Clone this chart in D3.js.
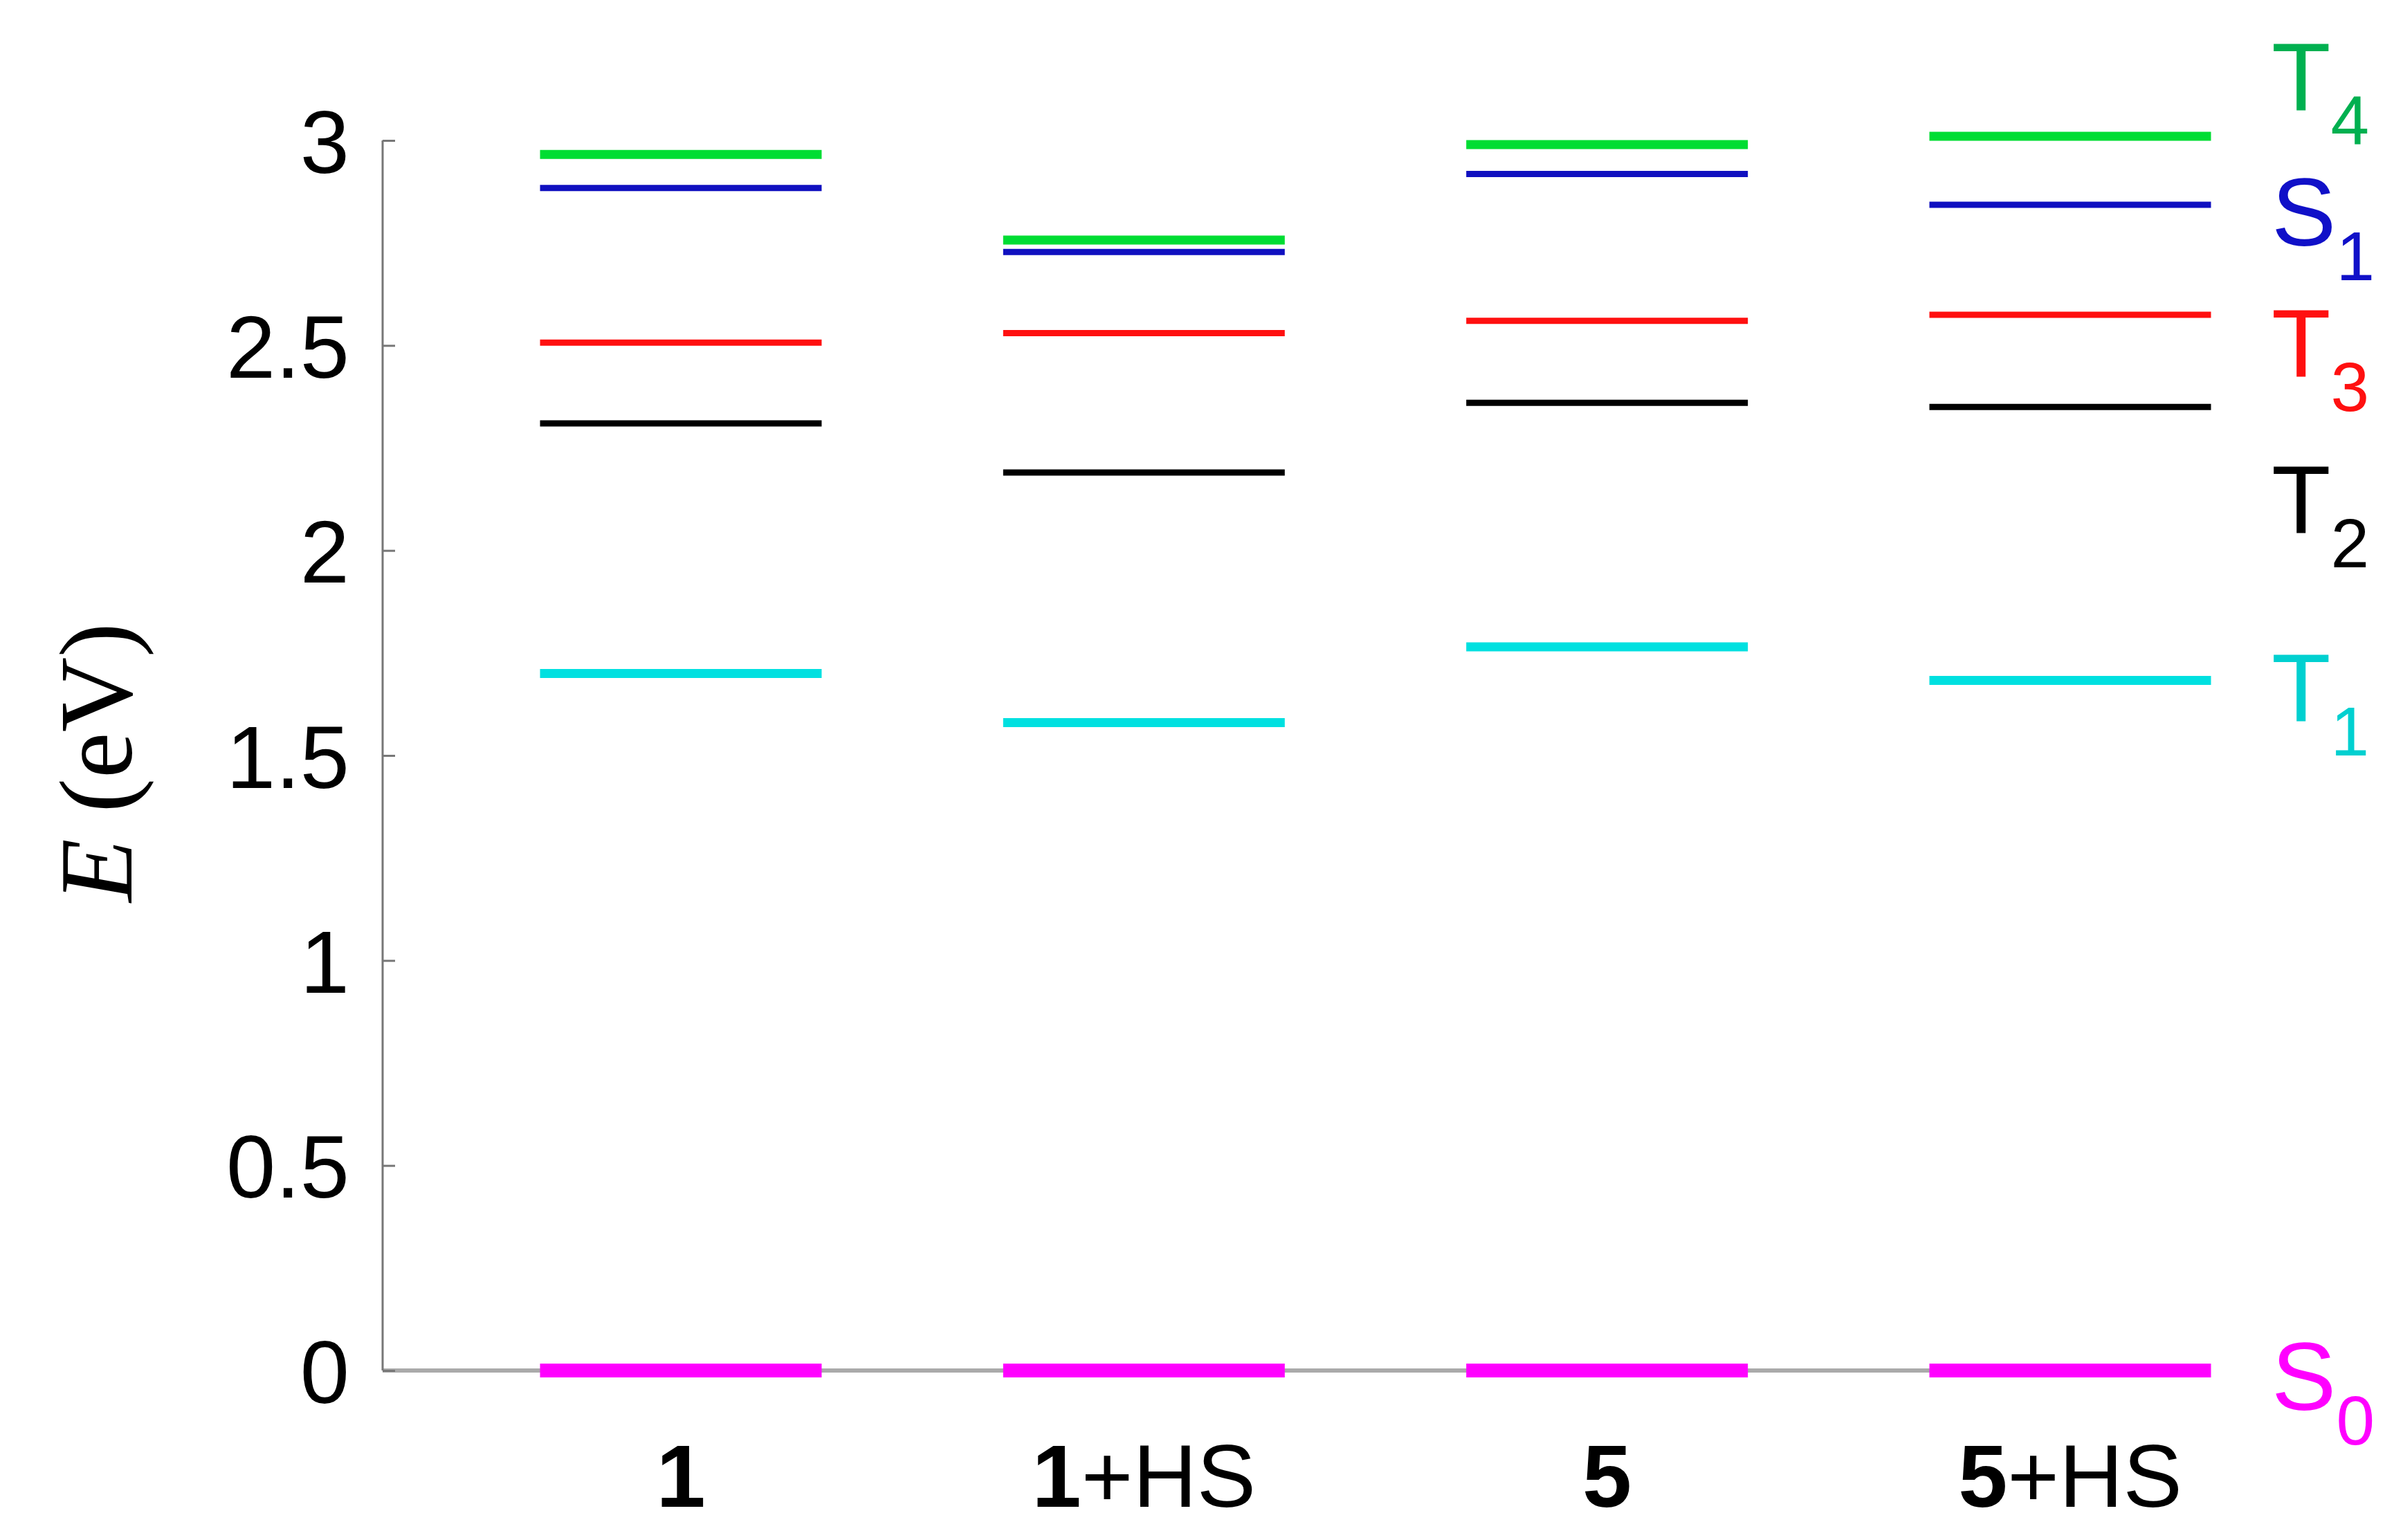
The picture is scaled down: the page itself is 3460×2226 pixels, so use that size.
<!DOCTYPE html>
<html>
<head>
<meta charset="utf-8">
<script src="https://cdn.jsdelivr.net/npm/d3@7"></script>
<style>
  body { margin: 0; background: #fff; }
  svg { display: block; }
</style>
</head>
<body>
<svg id="chart" width="3460" height="2226"></svg>
<script>
// systems on the x axis
const systems = ['1', '1+HS', '5', '5+HS'];
// energy levels per state (eV), one value per system
const S0 = [0, 0, 0, 0];
const T1 = [1.70, 1.58, 1.765, 1.683];
const T2 = [2.31, 2.19, 2.36, 2.35];
const T3 = [2.507, 2.53, 2.56, 2.575];
const S1 = [2.884, 2.728, 2.918, 2.843];
const T4 = [2.966, 2.757, 2.99, 3.01];
const yTicks = [0, 0.5, 1, 1.5, 2, 2.5, 3];

const states = [
  { name: 'S', sub: '0', values: S0, color: '#ff00ff', labelColor: '#ff00ff', width: 20, labelAt: -0.02 },
  { name: 'T', sub: '1', values: T1, color: '#00e0e0', labelColor: '#00d0d0', width: 13, labelAt: 1.66 },
  { name: 'T', sub: '2', values: T2, color: '#000000', labelColor: '#000000', width: 9, labelAt: 2.12 },
  { name: 'T', sub: '3', values: T3, color: '#ff1010', labelColor: '#ff1010', width: 9, labelAt: 2.5 },
  { name: 'S', sub: '1', values: S1, color: '#1010c0', labelColor: '#1010c8', width: 9, labelAt: 2.82 },
  { name: 'T', sub: '4', values: T4, color: '#00dd33', labelColor: '#00b050', width: 13, labelAt: 3.15 }
];

const svg = d3.select('#chart');
const left = 553, right = 3195, y0 = 1981, y3 = 203;
const barW = 407;

const x = d3.scalePoint().domain(systems).range([984, 2992]);
const y = d3.scaleLinear().domain([0, 3]).range([y0, y3]);

// axes
svg.append('line')
  .attr('x1', left).attr('x2', right)
  .attr('y1', y(0)).attr('y2', y(0))
  .attr('stroke', '#aaa').attr('stroke-width', 6);
svg.append('line')
  .attr('x1', left).attr('x2', left)
  .attr('y1', y(3)).attr('y2', y(0))
  .attr('stroke', '#777').attr('stroke-width', 3);

const yAxis = svg.append('g').attr('transform', `translate(${left},0)`)
  .call(d3.axisRight(y).tickValues(yTicks).tickSize(18).tickFormat(d3.format('')));
yAxis.select('.domain').remove();
yAxis.selectAll('.tick line').attr('stroke', '#777').attr('stroke-width', 3);
yAxis.selectAll('.tick text')
  .attr('x', -48).attr('text-anchor', 'end').attr('dy', '0.36em')
  .attr('font-family', 'Liberation Sans, Arial, sans-serif')
  .attr('font-size', 128).attr('fill', '#000');

// y title
svg.append('text')
  .attr('transform', `translate(190,${(y(0) + y(3)) / 2 + 10}) rotate(-90)`)
  .attr('text-anchor', 'middle')
  .attr('font-family', 'Liberation Serif, Times New Roman, serif')
  .attr('font-size', 150)
  .html('<tspan font-style="italic">E</tspan> (eV)');

// x labels
svg.append('g').selectAll('text').data(systems).join('text')
  .attr('x', d => x(d))
  .attr('y', 2178)
  .attr('text-anchor', 'middle')
  .attr('font-family', 'Liberation Sans, Arial, sans-serif')
  .attr('font-size', 128)
  .each(function (d) {
    const parts = d.split('+');
    const t = d3.select(this);
    t.append('tspan').attr('font-weight', 'bold').text(parts[0]);
    if (parts[1]) t.append('tspan').text('+' + parts[1]);
  });

// levels
states.forEach(s => {
  svg.append('g').selectAll('line').data(s.values).join('line')
    .attr('x1', (d, i) => x(systems[i]) - barW / 2)
    .attr('x2', (d, i) => x(systems[i]) + barW / 2)
    .attr('y1', d => y(d)).attr('y2', d => y(d))
    .attr('stroke', s.color).attr('stroke-width', s.width);
});

// state labels
const lab = svg.append('g').selectAll('text').data(states).join('text')
  .attr('x', 3283)
  .attr('y', d => y(d.labelAt) + 45)
  .attr('font-family', 'Liberation Sans, Arial, sans-serif')
  .attr('font-size', 140)
  .attr('fill', d => d.labelColor);
lab.append('tspan').text(d => d.name);
lab.append('tspan').attr('font-size', 100).attr('dy', 50).text(d => d.sub);
</script>
</body>
</html>
